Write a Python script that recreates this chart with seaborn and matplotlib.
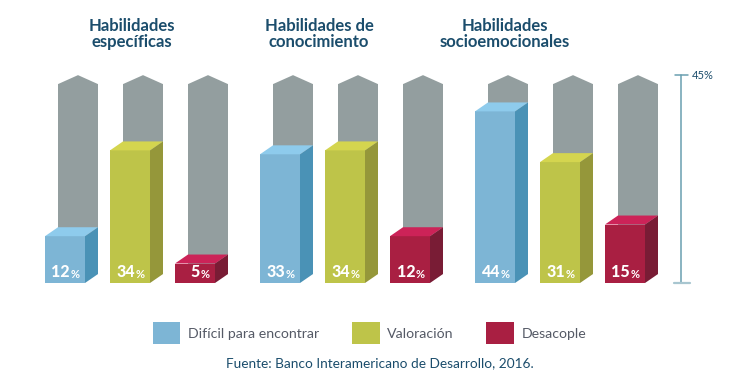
# import libraries
import seaborn as sns
import pandas as pd
import numpy as np
import matplotlib.pyplot as plt
from matplotlib.patches import Polygon, Patch

# data
groups = ['Habilidades\nespecíficas', 'Habilidades de\nconocimiento', 'Habilidades\nsocioemocionales']
series = ['Difícil para encontrar', 'Valoración', 'Desacople']
dificil = [12, 33, 44]
valoracion = [34, 34, 31]
desacople = [5, 12, 15]
axis_label = '45%'
source = 'Fuente: Banco Interamericano de Desarrollo, 2016.'

# colours
front_col = ['#7db5d5', '#bec449', '#a91f42']
side_col = ['#4a92b6', '#95973a', '#791c35']
top_col = ['#8ecbec', '#d4d54f', '#cc2358']
grey = '#939e9f'
title_col = '#1b4d6c'

sns.set_theme(style='white')
plt.rcParams['font.family'] = ['Lato', 'DejaVu Sans']

# layout (pixel-like x units, y in %)
first_left, group_step, bar_step, w = 45, 215, 65, 40
dx, dy = 13, 2.3
px, base = 3.9, 283
track = 51

values = [dificil, valoracion, desacople]
rows = []
for g in range(len(groups)):
    for i in range(len(series)):
        left = first_left + group_step * g + bar_step * i
        rows.append({'pos': left + w / 2, 'value': values[i][g], 'serie': series[i]})
df = pd.DataFrame(rows)

fig = plt.figure(figsize=(7.38, 3.82), dpi=100)
ax = fig.add_axes([0, 0, 1, 1])

# grey tracks behind the bars
for p in df['pos']:
    x0 = p - w / 2 + dx
    x1 = x0 + w
    ax.add_patch(Polygon([(x0, dy), (x0, track), ((x0 + x1) / 2, track + dy), (x1, track), (x1, dy)],
                         closed=True, facecolor=grey, edgecolor='none', zorder=0.5))

# front faces
sns.barplot(data=df, x='pos', y='value', hue='serie', palette=front_col, native_scale=True,
            dodge=False, width=w / bar_step, errorbar=None, saturation=1, linewidth=0,
            legend=False, ax=ax)

# sides, tops and labels
for _, r in df.iterrows():
    i = series.index(r['serie'])
    l = r['pos'] - w / 2
    v = r['value']
    ax.add_patch(Polygon([(l + w, 0), (l + w + dx, dy), (l + w + dx, v + dy), (l + w, v)],
                         closed=True, facecolor=side_col[i], edgecolor='none', zorder=2))
    ax.add_patch(Polygon([(l, v), (l + dx, v + dy), (l + w + dx, v + dy), (l + w, v)],
                         closed=True, facecolor=top_col[i], edgecolor='none', zorder=2))
    num = ax.text(r['pos'] + 5, 1.5, str(v), ha='right', va='baseline', color='white',
                  fontsize=11.5, fontweight='black', zorder=4)
    ax.annotate('%', xy=(1, 0), xycoords=num, xytext=(0.5, 0), textcoords='offset points',
                ha='left', va='bottom', color='white', fontsize=8, fontweight='bold', zorder=4)

# right scale
ax_x = 681
ax.plot([ax_x, ax_x], [0, track + dy], color='#6a9fb0', lw=1.1, clip_on=False)
ax.plot([ax_x - 6, ax_x + 7], [track + dy, track + dy], color='#6a9fb0', lw=1.1, clip_on=False)
ax.plot([ax_x - 7, ax_x + 9], [0, 0], color='#a8c6d0', lw=1.6, clip_on=False)
ax.text(ax_x + 11, track + dy, axis_label, ha='left', va='center', color=title_col, fontsize=8)

ax.set_xlim(0, 738)
ax.set_ylim(-(382 - base) / px, base / px)
ax.axis('off')

# titles
for t, x in zip(groups, [132, 319, 505]):
    fig.text(x / 738, 1 - 34 / 382, t, ha='center', va='center', color=title_col,
             fontsize=12, fontweight='bold', linespacing=0.95)

# legend
handles = [Patch(facecolor=c, edgecolor='none') for c in front_col]
fig.legend(handles, series, loc='center', bbox_to_anchor=(0.501, 1 - 333 / 382), ncol=3,
           frameon=False, fontsize=10.2, handlelength=1.95, handleheight=1.95, handletextpad=0.55,
           columnspacing=2.3, labelcolor='#555a66')

fig.text(380 / 738, 1 - 363 / 382, source, ha='center', va='center', color=title_col, fontsize=9.8)

plt.savefig('out.png', dpi=100)
